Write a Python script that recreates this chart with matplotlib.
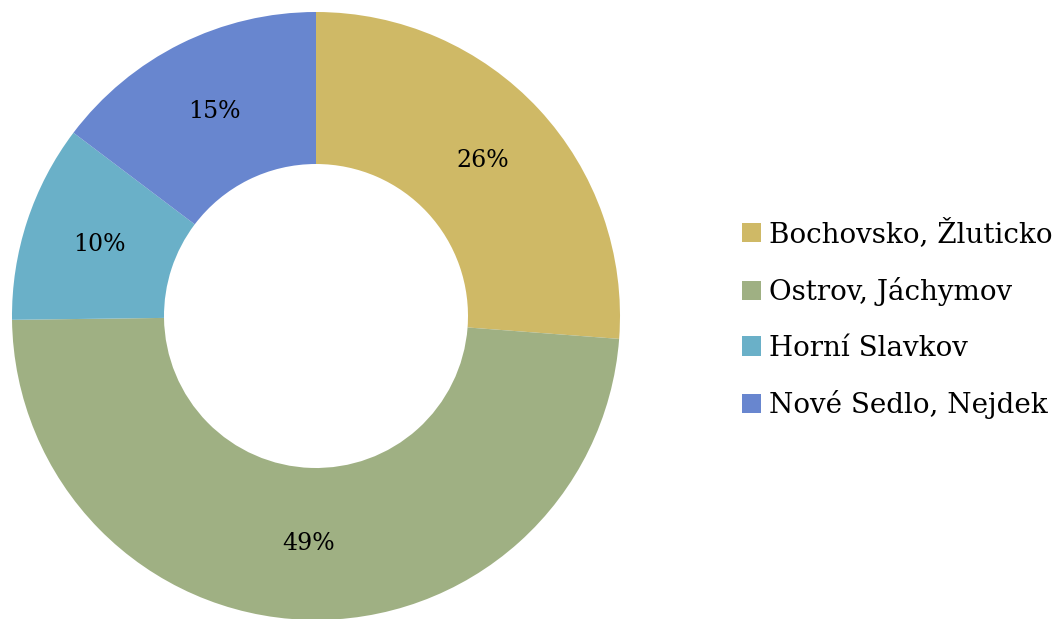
import matplotlib
matplotlib.use("Agg")
import matplotlib.pyplot as plt
from matplotlib.patches import Patch

categories = ["Bochovsko, Žluticko", "Ostrov, Jáchymov", "Horní Slavkov", "Nové Sedlo, Nejdek"]
values = [26.2, 48.6, 10.5, 14.7]
colors = ["#CFB966", "#9FB083", "#6AB0C8", "#6886CF"]

plt.rcParams['font.family'] = ['DejaVu Serif']

W, H = 1062, 619
fig = plt.figure(figsize=(W / 100, H / 100), dpi=100)
cx, cy, R = 316, 619 - 316, 304
ax = fig.add_axes([(cx - R) / W, (cy - R) / H, 2 * R / W, 2 * R / H])
wedges, texts, autotexts = ax.pie(
    values, colors=colors, startangle=90, counterclock=False,
    radius=1.0, wedgeprops=dict(width=0.5, linewidth=0),
    autopct=lambda p: f"{p:.0f}%", pctdistance=0.75,
    textprops=dict(fontsize=17, color="black"))
for w in wedges:
    w.set_clip_on(False)
ax.set_xlim(-1, 1)
ax.set_ylim(-1, 1)
ax.set_aspect('equal')
ax.axis('off')

handles = [Patch(facecolor=c, edgecolor='none') for c in colors]
leg = fig.legend(handles, categories, loc='center left',
                 bbox_to_anchor=(731 / W, 1 - 319 / H), frameon=False,
                 fontsize=20, handlelength=0.68, handleheight=0.68,
                 handletextpad=0.3, labelspacing=1.03, borderaxespad=0)

fig.savefig("out.png", dpi=100)
